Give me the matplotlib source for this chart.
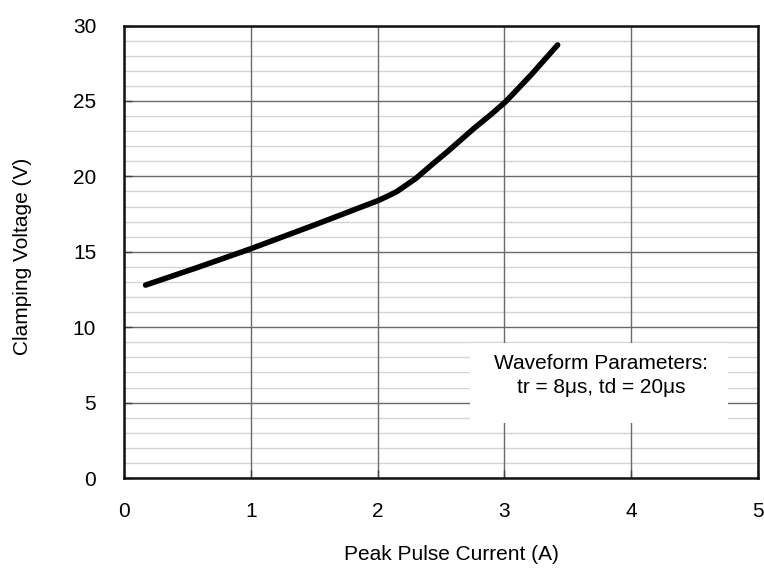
import matplotlib
matplotlib.use("Agg")
import matplotlib.pyplot as plt
from matplotlib.patches import Rectangle

plt.rcParams['font.family'] = ['Liberation Sans', 'DejaVu Sans']

current = [0.17, 0.57, 1.0, 1.5, 2.0, 2.07, 2.15, 2.3, 2.44, 2.55, 2.76, 2.89, 3.01, 3.21, 3.31, 3.42]
voltage = [12.79, 13.93, 15.2, 16.77, 18.38, 18.65, 18.98, 19.85, 20.86, 21.63, 23.18, 24.07, 24.95, 26.72, 27.67, 28.71]
x_ticks = [0, 1, 2, 3, 4, 5]
y_ticks = [0, 5, 10, 15, 20, 25, 30]
y_minor = [v for v in range(0, 31) if v % 5 != 0]

W, H = 764, 571
fig = plt.figure(figsize=(W/100, H/100), dpi=100)
L, R, T, B = 124, 758, 25.5, 478
ax = fig.add_axes([L/W, 1-B/H, (R-L)/W, (B-T)/H])

ax.set_xlim(0, 5)
ax.set_ylim(0, 30)
ax.set_xticks(x_ticks)
ax.set_yticks(y_ticks)
for v in y_minor:
    ax.axhline(v, color='#d4d4d4', linewidth=1.0, zorder=0.1)
ax.grid(which='major', color='#6a6a6a', linewidth=1.0)
ax.set_axisbelow(True)
ax.tick_params(which='major', direction='in', length=6, width=1, labelsize=15, color='#404040',
               top=False, right=False)
ax.tick_params(axis='y', pad=20)
ax.tick_params(axis='x', pad=17)
for s in ax.spines.values():
    s.set_linewidth(1.8)
    s.set_color('#111111')

ax.add_patch(Rectangle((2.73, 3.63), 2.03, 5.31, facecolor='white', edgecolor='none', zorder=1))
ax.text(3.76, 7.57, 'Waveform Parameters:', ha='center', va='center', fontsize=15, zorder=2)
ax.text(3.76, 6.03, 'tr = 8μs, td = 20μs', ha='center', va='center', fontsize=15, zorder=2)

ax.plot(current, voltage, color='black', linewidth=4, solid_capstyle='round',
        solid_joinstyle='round', zorder=3)

fig.text(451/W, 1-555/H, 'Peak Pulse Current (A)', ha='center', va='center', fontsize=15)
fig.text(22.7/W, 1-256.7/H, 'Clamping Voltage (V)', ha='center', va='center', fontsize=15,
         rotation=90)

fig.savefig('out.png', dpi=100)
